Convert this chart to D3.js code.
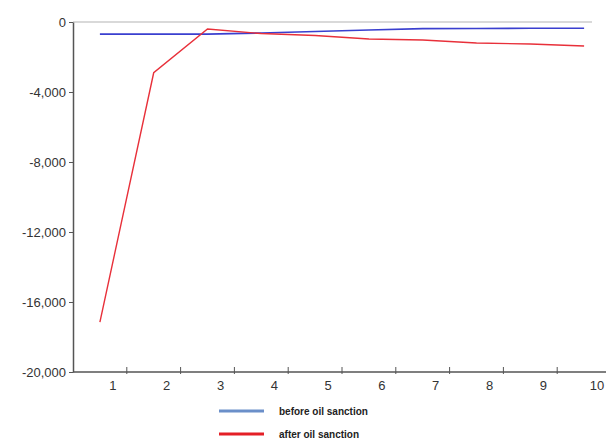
<!DOCTYPE html>
<html>
<head>
<meta charset="utf-8">
<script src="https://cdn.jsdelivr.net/npm/d3@7"></script>
<style>
  body { margin: 0; background: #fff; }
  svg { display: block; font-family: "Liberation Sans", Arial, sans-serif; }
</style>
</head>
<body>
<div id="chart"></div>
<script>
// periods on the x axis
var periods = [1, 2, 3, 4, 5, 6, 7, 8, 9, 10];
// impulse responses
var beforeSanction = [-690, -690, -690, -630, -540, -460, -380, -370, -360, -360];
var afterSanction = [-17150, -2900, -400, -660, -770, -970, -1030, -1200, -1260, -1370];
var yTicks = [0, -4000, -8000, -12000, -16000, -20000];
var seriesNames = ["before oil sanction", "after oil sanction"];

var svgWidth = 606;
var svgHeight = 443;

var svg = d3.select("#chart")
  .append("svg")
  .attr("width", svgWidth)
  .attr("height", svgHeight);

// scales
var xScale = d3.scaleBand()
  .domain(periods)
  .range([73, 611]);

var yScale = d3.scaleLinear()
  .domain([-20000, 0])
  .range([372, 22]);

// zero line across the top
svg.append("line")
  .attr("x1", 73)
  .attr("x2", 592)
  .attr("y1", yScale(0))
  .attr("y2", yScale(0))
  .attr("stroke", "#d9d9d9")
  .attr("stroke-width", 2);

// y axis, labels with a plain hyphen like the original
var yAxis = d3.axisLeft(yScale)
  .tickValues(yTicks)
  .tickSize(4)
  .tickSizeOuter(0)
  .tickFormat(d => d3.format(",")(d).replace("\u2212", "-"));

var gy = svg.append("g")
  .attr("transform", "translate(73,0)")
  .call(yAxis);
gy.select(".domain").attr("stroke", "#555").attr("stroke-width", 1.5);
gy.selectAll(".tick line").attr("stroke", "#555");
gy.selectAll(".tick text")
  .attr("x", -7)
  .attr("fill", "#333")
  .attr("font-size", 13);

// x axis with ticks between periods
svg.append("line")
  .attr("x1", 73)
  .attr("x2", 606)
  .attr("y1", 372)
  .attr("y2", 372)
  .attr("stroke", "#555")
  .attr("stroke-width", 1.5);

svg.selectAll(".xtick")
  .data(periods.slice(1))
  .enter()
  .append("line")
  .attr("class", "xtick")
  .attr("x1", d => xScale(d))
  .attr("x2", d => xScale(d))
  .attr("y1", 367)
  .attr("y2", 374)
  .attr("stroke", "#555");

svg.selectAll(".xlabel")
  .data(periods)
  .enter()
  .append("text")
  .attr("class", "xlabel")
  .attr("x", d => xScale(d) + xScale.bandwidth() / 2 + 13)
  .attr("y", 390)
  .attr("text-anchor", "middle")
  .attr("fill", "#333")
  .attr("font-size", 13)
  .text(d => d);

// lines
var line = d3.line()
  .x((d, i) => xScale(periods[i]) + xScale.bandwidth() / 2)
  .y(d => yScale(d));

svg.append("path")
  .datum(beforeSanction)
  .attr("d", line)
  .attr("fill", "none")
  .attr("stroke", "#3a3fcf")
  .attr("stroke-width", 1.6);

svg.append("path")
  .datum(afterSanction)
  .attr("d", line)
  .attr("fill", "none")
  .attr("stroke", "#e8303a")
  .attr("stroke-width", 1.4);

// legend
var legendColors = ["#6b8fc9", "#e41f26"];
var legend = svg.selectAll(".legend")
  .data(seriesNames)
  .enter()
  .append("g")
  .attr("class", "legend")
  .attr("transform", (d, i) => `translate(219, ${411 + i * 23})`);

legend.append("line")
  .attr("x1", 0)
  .attr("x2", 45)
  .attr("stroke", (d, i) => legendColors[i])
  .attr("stroke-width", 3);

legend.append("text")
  .attr("x", 60)
  .attr("dy", "0.35em")
  .attr("font-size", 10)
  .attr("font-weight", "bold")
  .attr("fill", "#222")
  .text(d => d);
</script>
</body>
</html>
